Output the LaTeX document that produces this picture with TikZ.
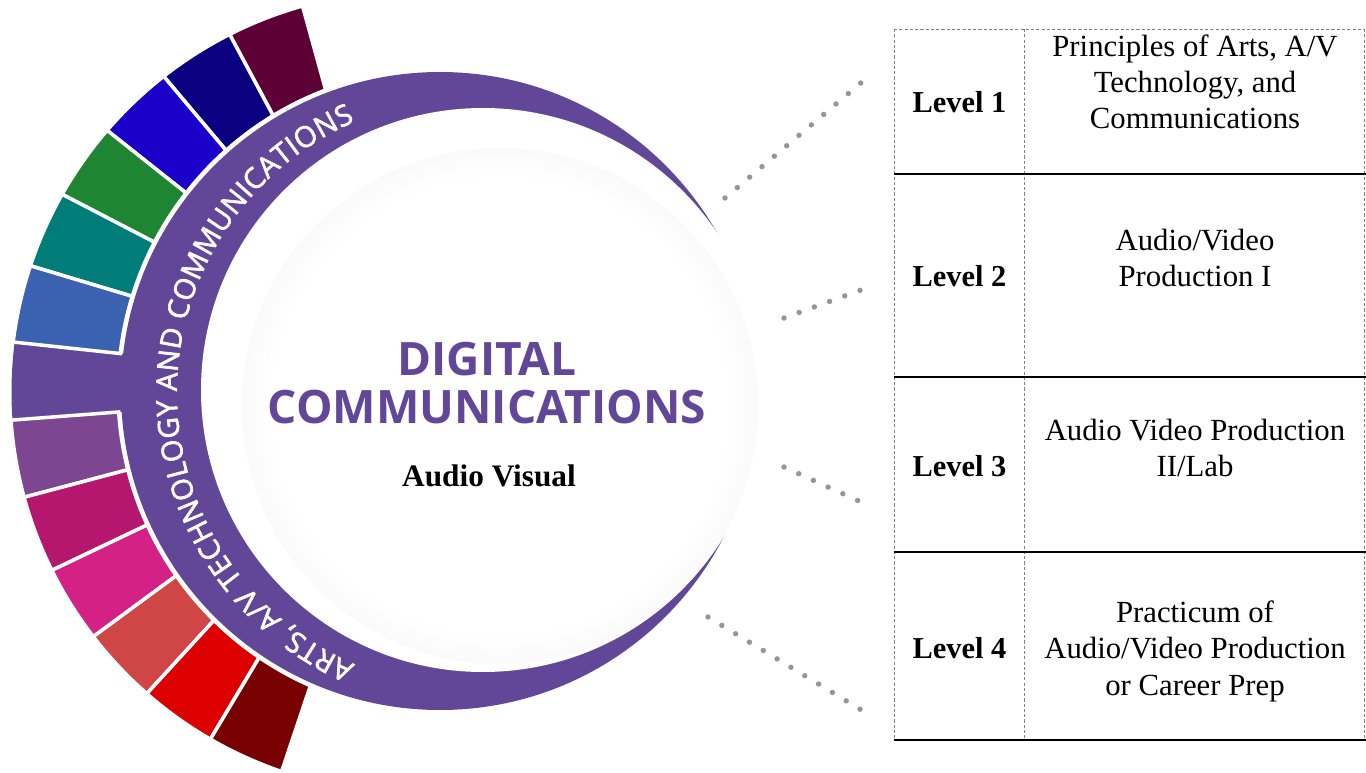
\documentclass[tikz,border=0pt]{standalone}
\usepackage{fontspec}
\setmainfont{Liberation Serif}
\newfontfamily\headfont{Open Sans}
\newfontfamily\arcfont[FakeBold=2]{Open Sans}
\usetikzlibrary{calc,decorations.text}

\definecolor{ringpurple}{RGB}{98,71,153}
\definecolor{segmaroon}{RGB}{92,0,54}
\definecolor{segnavy}{RGB}{10,0,128}
\definecolor{segblue}{RGB}{26,0,200}
\definecolor{seggreen}{RGB}{30,133,50}
\definecolor{segteal}{RGB}{0,125,120}
\definecolor{segsteel}{RGB}{58,98,176}
\definecolor{segmauve}{RGB}{125,70,144}
\definecolor{segplum}{RGB}{181,23,111}
\definecolor{segpink}{RGB}{212,33,133}
\definecolor{segcoral}{RGB}{208,69,69}
\definecolor{segred}{RGB}{220,0,0}
\definecolor{segdarkred}{RGB}{120,0,0}
\definecolor{dotgrey}{RGB}{150,150,154}
\definecolor{discgrey}{RGB}{234,234,236}
\pgfdeclareradialshading{discshade}{\pgfpoint{0bp}{0bp}}{color(0bp)=(white); color(22bp)=(white); color(35bp)=(discgrey); color(50bp)=(discgrey)}

\begin{document}
\begin{tikzpicture}[
    x = 0.02cm,
    y = -0.02cm,
    seg/.style = {draw=white, line width=2pt},
    dotline/.style = {draw=dotgrey, line width=3.1pt, line cap=round,
              dash pattern=on 0pt off 9.2pt},
    tabdash/.style = {draw=black!50, line width=0.5pt, dash pattern=on 1.8pt off 1.2pt},
    tabrule/.style = {draw=black, line width=0.9pt},
    level/.style = {font={\fontsize{17.3}{20.5}\selectfont\bfseries}, anchor=base, inner sep=0pt},
    course/.style = {font={\fontsize{17.5}{20.5}\selectfont}, align=center, anchor=base, inner sep=0pt},
    ]

\useasboundingbox (0,0) rectangle (1366,773);

\coordinate (ring_in) at (440,391);
\coordinate (ring_out) at (411,392);
\coordinate (disc_c) at (483,390);
\coordinate (shade_c) at (500,406);
\coordinate (label_c) at (473,393);

\fill [ringpurple] ($(ring_in)+(186.7:300)$) arc[start angle=186.7, end angle=176.3, radius=300]
    -- ($(ring_out)+(176.0:399.5)$) arc[start angle=176.0, end angle=187.2, radius=399.5] -- cycle;
\fill [ringpurple] (ring_in) circle[radius=319];
\fill [white] (disc_c) circle[radius=282];
\shade [shading=discshade] (shade_c) circle[radius=258];

\foreach \k/\col in {0/segmaroon, 1/segnavy, 2/segblue, 3/seggreen, 4/segteal, 5/segsteel,
                     7/segmauve, 8/segplum, 9/segpink, 10/segcoral, 11/segred, 12/segdarkred}{
  \pgfmathsetmacro\ai{249.2-10.42*\k}
  \pgfmathsetmacro\aj{249.2-10.42*(\k+1)}
  \pgfmathsetmacro\bi{254.3-11.19*\k}
  \pgfmathsetmacro\bj{254.3-11.19*(\k+1)}
  \filldraw [seg, fill=\col] ($(ring_in)+(\ai:322)$) arc[start angle=\ai, end angle=\aj, radius=322]
      -- ($(ring_out)+(\bj:401)$) arc[start angle=\bj, end angle=\bi, radius=401] -- cycle;
}

\path [decorate, decoration={text along path, text color=white, text align=fit to path,
      text={|\arcfont\fontsize{16.5}{16.5}\selectfont|ARTS, A/V TECHNOLOGY AND COMMUNICATIONS}}]
      ($(label_c)+(113.5:296)$) arc[start angle=113.5, end angle=246.5, radius=296];

\node [anchor=base, inner sep=0pt, align=center, text=ringpurple,
       font={\headfont\bfseries\fontsize{26.2}{27.3}\selectfont}] (title) at (487,423) {DIGITAL\\COMMUNICATIONS};
\node [anchor=base, inner sep=0pt, font={\fontsize{17.8}{20}\selectfont\bfseries}] (subtitle) at (489,486) {Audio Visual};

\coordinate (dot_1_a) at (725,198);
\coordinate (dot_1_b) at (862,82);
\coordinate (dot_2_a) at (784,318);
\coordinate (dot_2_b) at (861,290);
\coordinate (dot_3_a) at (784,467);
\coordinate (dot_3_b) at (861,502);
\coordinate (dot_4_a) at (708,617);
\coordinate (dot_4_b) at (863,711);
\foreach \i in {1,...,4}
  \draw [dotline] (dot_\i_a) -- (dot_\i_b);

\draw [tabdash] (894,29) -- (1364,29);
\foreach \x in {894,1024,1364}
  \draw [tabdash] (\x,29) -- (\x,740);
\foreach \y in {174,377,552,740}
  \draw [tabrule] (894,\y) -- (1366,\y);

\node [level] (level_1) at (959.5,113) {Level 1};
\node [level] (level_2) at (959.5,287) {Level 2};
\node [level] (level_3) at (959.5,477) {Level 3};
\node [level] (level_4) at (959.5,658) {Level 4};

\node [course] (course_1) at (1195,129) {Principles of Arts, A/V\\Technology, and\\Communications};
\node [course] (course_2) at (1195,287) {Audio/Video\\Production I};
\node [course] (course_3) at (1195,477) {Audio Video Production\\II/Lab};
\node [course] (course_4) at (1195,695) {Practicum of\\Audio/Video Production\\or Career Prep};

\end{tikzpicture}
\end{document}
